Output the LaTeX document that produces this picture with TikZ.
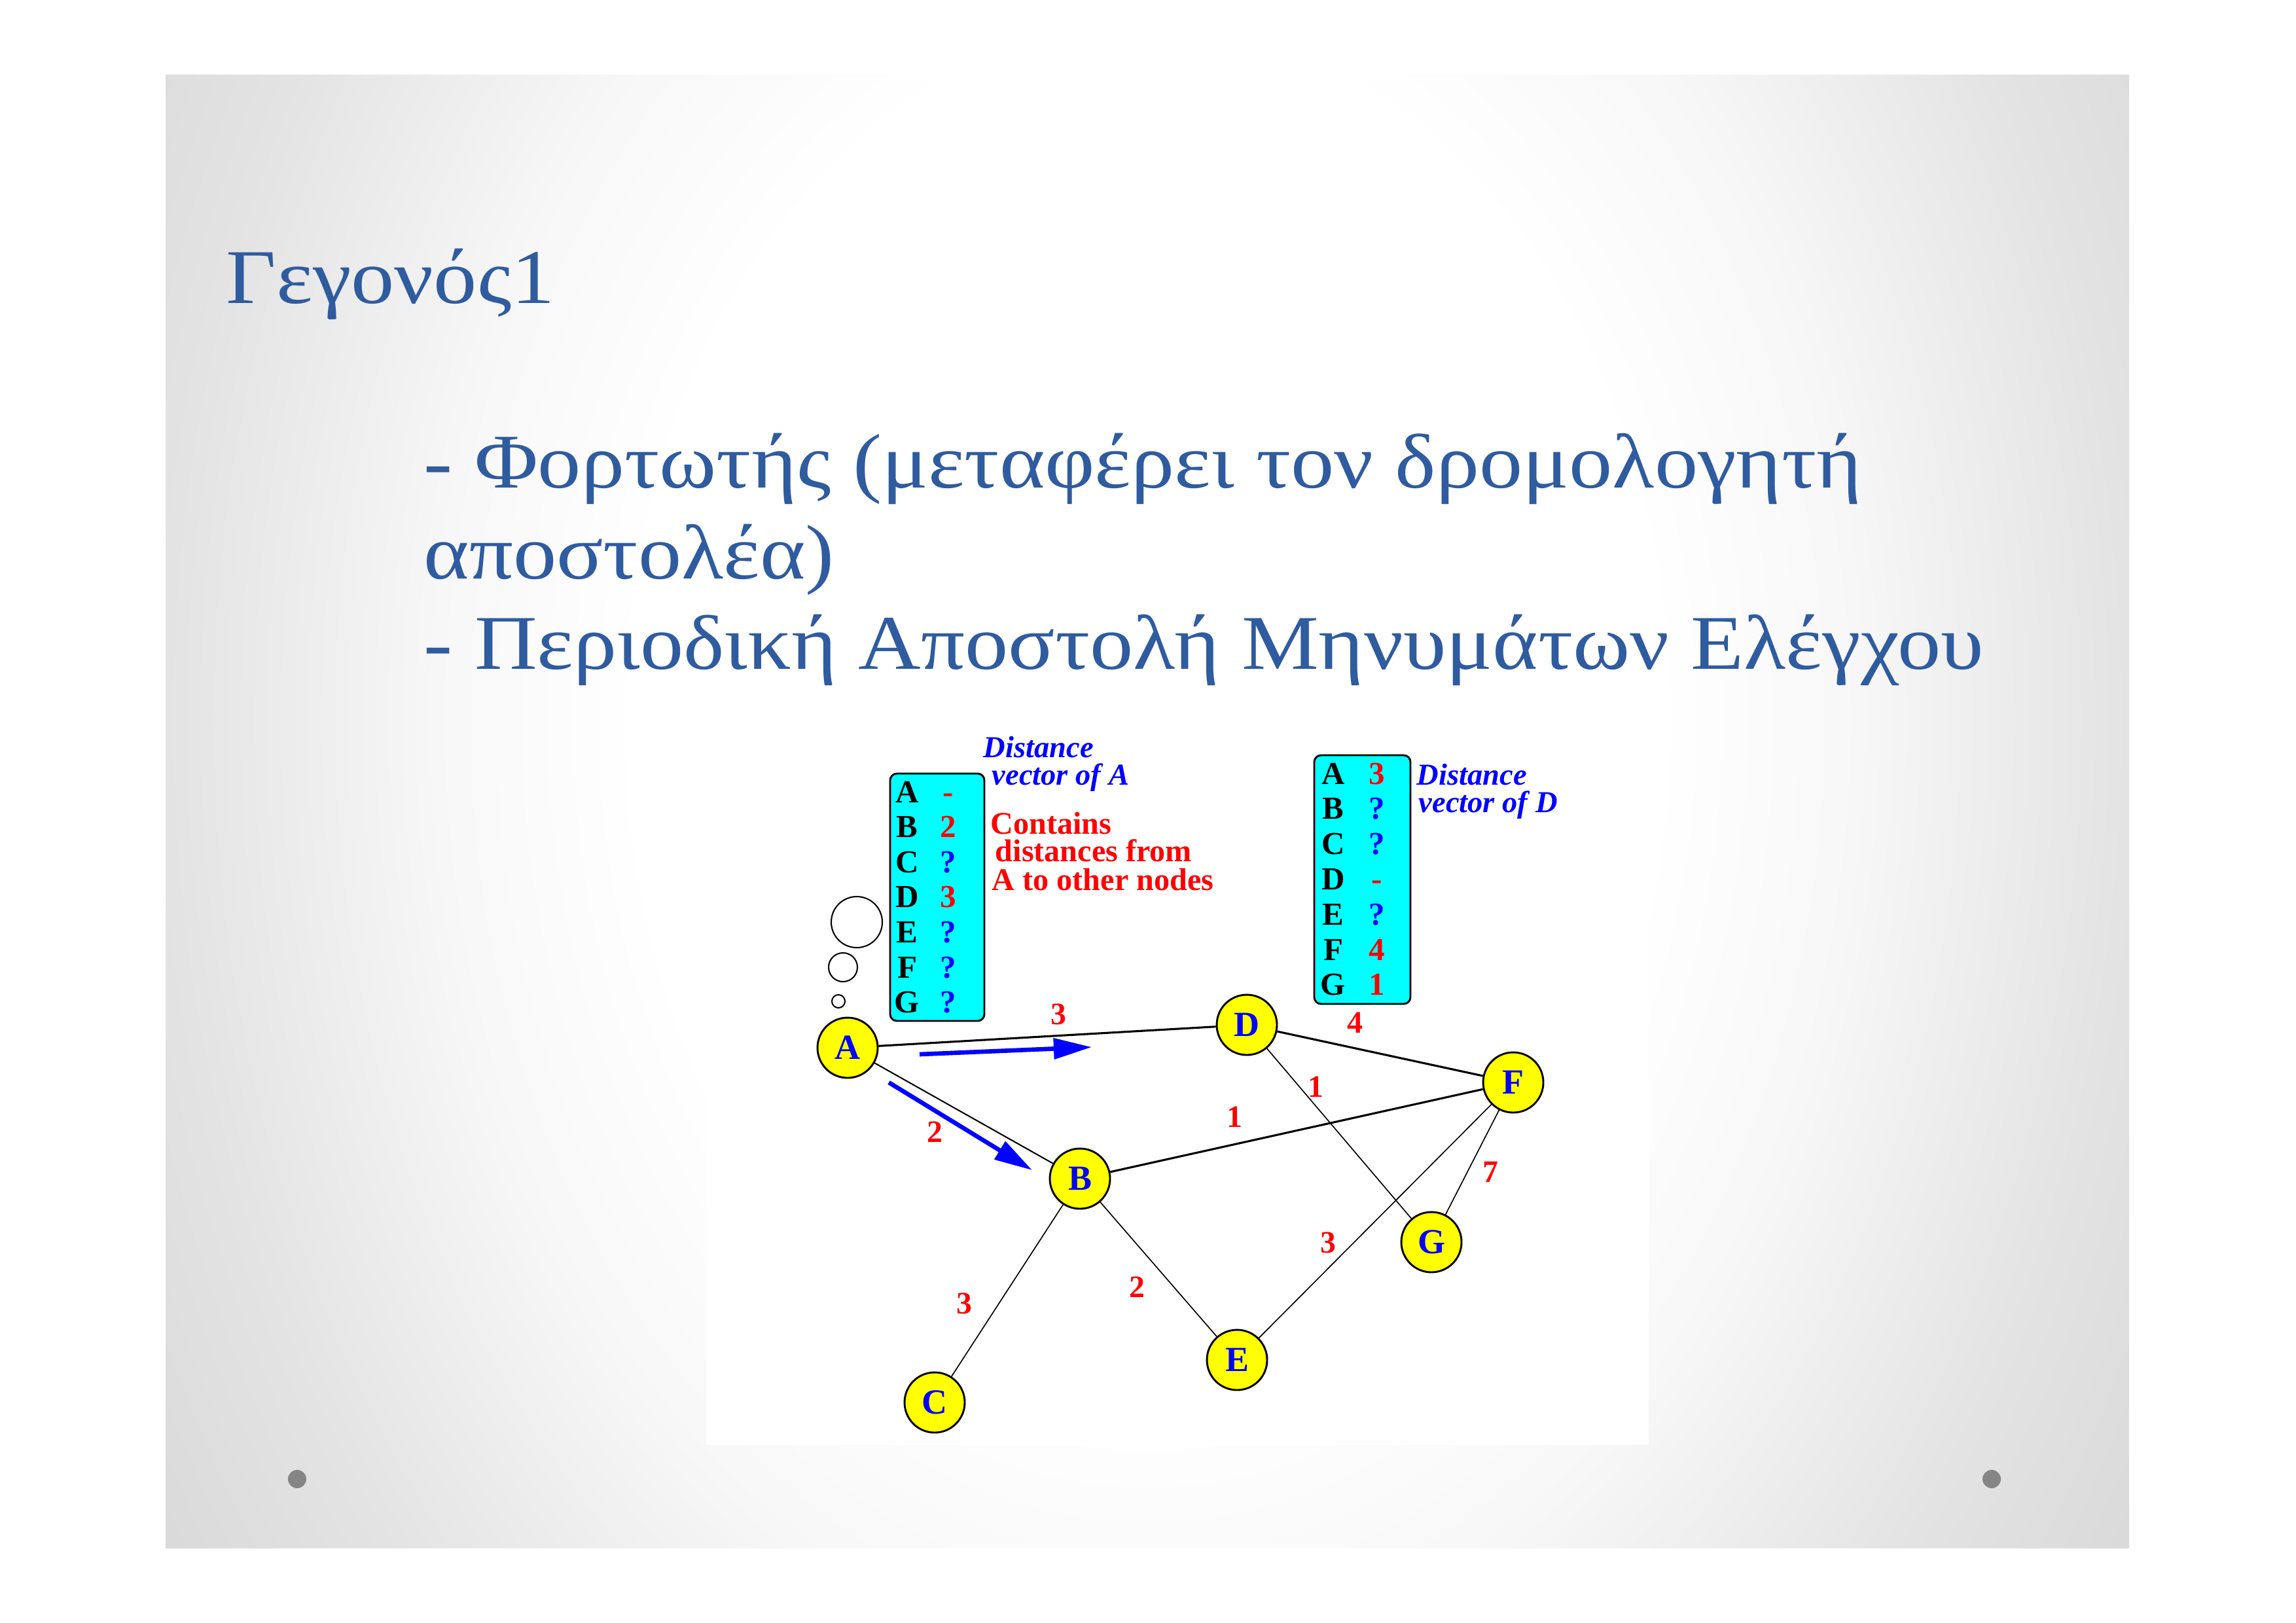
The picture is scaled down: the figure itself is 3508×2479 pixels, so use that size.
\documentclass[tikz,border=0pt]{standalone}
\usepackage{fontspec}
\setmainfont{Liberation Serif}
\newfontfamily\slidefont[FakeStretch=1.12]{Liberation Serif}
\usetikzlibrary{arrows.meta}

\definecolor{slideblue}{HTML}{2F5B9F}
\definecolor{nodeyellow}{HTML}{FFFF00}
\definecolor{vecblue}{HTML}{0000FF}
\definecolor{vecred}{HTML}{FF0000}
\definecolor{tablecyan}{HTML}{00FFFF}
\definecolor{dotgray}{HTML}{858585}

% soft fade of the slide: white middle, grey towards the sides
% (a shaded path's bounding box spans -25bp..25bp of the shading)
\pgfdeclareradialshading{slidebg}{\pgfpoint{0bp}{0bp}}{%
  color(0bp)=(white); color(13bp)=(white); color(18bp)=(black!3);
  color(25bp)=(black!11); color(30bp)=(black!15); color(40bp)=(black!16)}

\tikzset{
  heading/.style={anchor=base west, inner sep=0pt, text=slideblue,
    font=\slidefont\fontsize{28.5}{34}\selectfont},
  graphnode/.style={circle, draw=black, line width=0.7pt, fill=nodeyellow,
    minimum size=92*0.24088pt, inner sep=0pt, text=vecblue,
    font=\fontsize{13}{13}\selectfont\bfseries},
  heavyedge/.style={line width=0.75pt},
  lightedge/.style={line width=0.4pt},
  weight/.style={text=vecred, inner sep=0pt, font=\fontsize{11.5}{11.5}\selectfont\bfseries},
  tablebox/.style={draw=black, line width=0.7pt, fill=tablecyan, rounded corners=2.5pt,
    inner sep=0pt},
  rowkey/.style={anchor=base, inner sep=0pt, text=black,
    font=\fontsize{11.8}{12}\selectfont\bfseries},
  rowval/.style={anchor=base, inner sep=0pt,
    font=\fontsize{11.8}{12}\selectfont\bfseries},
  vectitle/.style={anchor=base west, inner sep=0pt, text height=7pt, text depth=0pt,
    text=vecblue, font=\fontsize{11.2}{12}\selectfont\bfseries\itshape},
  vecnote/.style={anchor=base west, inner sep=0pt, text height=7.5pt, text depth=0pt,
    text=vecred, font=\fontsize{11.6}{12}\selectfont\bfseries},
  bubble/.style={circle, draw=black, line width=0.5pt, inner sep=0pt},
  flow/.style={draw=vecblue, line width=1.6pt, -{Triangle[length=14pt,width=7.5pt]}},
}

\begin{document}
\begin{tikzpicture}[x=0.24088pt, y=-0.24088pt]
  \useasboundingbox (0,0) rectangle (3508,2479);
  \fill[white] (0,0) rectangle (3508,2479);

  % slide background and footer dots
  \begin{scope}
    \clip (253,114) rectangle (3253,2365);
    \shade[shading=slidebg] (253,-900) rectangle (3253,3100);
  \end{scope}
  \fill[dotgray] (454,2260) circle[radius=14];
  \fill[dotgray] (3043,2260) circle[radius=14];

  % headings
  \node[heading] (title) at (345,463) {Γεγονός1};
  \node[heading] (line1) at (647,745) {- Φορτωτής (μεταφέρει τον δρομολογητή};
  \node[heading] (line2) at (647,884) {αποστολέα)};
  \node[heading] (line3) at (647,1022) {- Περιοδική Αποστολή Μηνυμάτων Ελέγχου};

  % white panel carrying the network
  \fill[white] (1079,1110) rectangle (2519,2208);

  % routers
  \node[graphnode] (A) at (1295,1601) {A};
  \node[graphnode] (B) at (1650,1801) {B};
  \node[graphnode] (C) at (1428,2143) {C};
  \node[graphnode] (D) at (1905,1566) {D};
  \node[graphnode] (E) at (1890,2078) {E};
  \node[graphnode] (F) at (2312,1654) {F};
  \node[graphnode] (G) at (2187,1898) {G};

  % links
  \draw[heavyedge] (A) -- (D);
  \draw[heavyedge] (D) -- (F);
  \draw[heavyedge] (B) -- (F);
  \draw[line width=0.5pt] (A) -- (B);
  \draw[lightedge] (D) -- (G);
  \draw[lightedge] (F) -- (E);
  \draw[lightedge] (F) -- (G);
  \draw[lightedge] (B) -- (C);
  \draw[lightedge] (B) -- (E);

  % link costs
  \node[weight] (wAD) at (1617,1550) {3};
  \node[weight] (wDF) at (2070,1563) {4};
  \node[weight] (wDG) at (2010,1661) {1};
  \node[weight] (wBF) at (1886,1707) {1};
  \node[weight] (wAB) at (1428,1730) {2};
  \node[weight] (wFG) at (2277,1791) {7};
  \node[weight] (wFE) at (2029,1899) {3};
  \node[weight] (wBE) at (1737,1967) {2};
  \node[weight] (wBC) at (1473,1992) {3};

  % A advertises its vector to its neighbours
  \coordinate (sendD0) at (1405,1611);
  \coordinate (sendD1) at (1668,1600);
  \coordinate (sendB0) at (1358,1654);
  \coordinate (sendB1) at (1577,1788);
  \draw[flow] (sendD0) -- (sendD1);
  \draw[flow] (sendB0) -- (sendB1);

  % thought bubbles rising from A
  \node[bubble, minimum size=78*0.24088pt] (think3) at (1309,1409) {};
  \node[bubble, minimum size=44*0.24088pt] (think2) at (1288,1478) {};
  \node[bubble, minimum size=20*0.24088pt] (think1) at (1281,1530) {};

  % distance vector of A
  \node[tablebox, minimum width=144*0.24088pt, minimum height=378*0.24088pt] (vecA) at (1432,1371) {};
  \foreach \k/\v/\c [count=\i from 0] in
      {A/-/vecred, B/2/vecred, C/?/vecblue, D/3/vecred, E/?/vecblue, F/?/vecblue, G/?/vecblue}
  {
    \node[rowkey] (aK\k) at (1386,{1226+53.6*\i}) {\k};
    \node[rowval, text=\c] (aV\k) at (1449,{1226+53.6*\i}) {\v};
  }
  \node[vectitle] (vecAt1) at (1502,1157) {Distance};
  \node[vectitle] (vecAt2) at (1515,1199) {vector of A};
  \node[vecnote] (noteA1) at (1513,1274) {Contains};
  \node[vecnote] (noteA2) at (1520,1316) {distances from};
  \node[vecnote] (noteA3) at (1515,1360) {A to other nodes};

  % distance vector of D
  \node[tablebox, minimum width=147*0.24088pt, minimum height=380*0.24088pt] (vecD) at (2081.5,1344) {};
  \foreach \k/\v/\c [count=\i from 0] in
      {A/3/vecred, B/?/vecblue, C/?/vecblue, D/-/vecred, E/?/vecblue, F/4/vecred, G/1/vecred}
  {
    \node[rowkey] (dK\k) at (2037,{1198+53.8*\i}) {\k};
    \node[rowval, text=\c] (dV\k) at (2104,{1198+53.8*\i}) {\v};
  }
  \node[vectitle] (vecDt1) at (2164,1199) {Distance};
  \node[vectitle] (vecDt2) at (2167,1241) {vector of D};
\end{tikzpicture}
\end{document}
